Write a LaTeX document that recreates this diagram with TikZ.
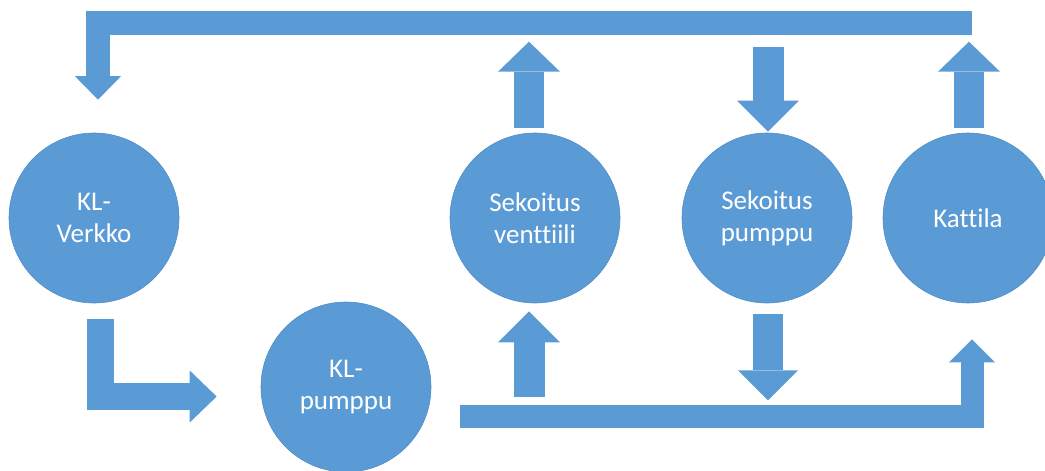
\documentclass[tikz,border=0pt]{standalone}
\usepackage{fontspec}
\setmainfont{Carlito}[Ligatures=NoCommon]
\usetikzlibrary{calc, arrows.meta}

\begin{document}
\begin{tikzpicture}[x=1pt, y=-1pt]
    % Define colours
    \definecolor{fillColour}{HTML}{5B9BD5}
    \definecolor{borderColour}{HTML}{4F8DC8}

    % Define styles
    \tikzset{
        unit/.style={circle, minimum size=170pt, inner sep=0pt, fill=fillColour, draw=borderColour, line width=0.6pt, text=white, align=center, font=\fontsize{27}{32}\selectfont},
        flow/.style 2 args={draw=fillColour, line width=#1pt, line join=miter, -{Triangle[width=#2pt, length=#1pt, line width=0pt]}}
    }

    % Fix picture size
    \clip (0,0) rectangle (1045,471);

    % Draw units
    \node[unit] (verkko) at (94,218) {KL-\\Verkko};
    \node[unit] (ventt) at (535,218) {Sekoitus\\venttiili};
    \node[unit] (spump) at (767,218) {Sekoitus\\pumppu};
    \node[unit] (kattila) at (968,218) {Kattila};
    \node[unit] (klpump) at (346,387) {KL-\\pumppu};

    % Define end points of the bent arrows
    \coordinate (topEnd) at ($(kattila.north)+(4,-109.5)$);
    \coordinate (verkkoIn) at ($(verkko.north)+(4,-33)$);
    \coordinate (verkkoOut) at ($(verkko.south)+(6.5,16)$);
    \coordinate (klpumpIn) at ($(klpump.west)+(-44,9.5)$);
    \coordinate (klpumpOut) at ($(klpump.east)+(29,29)$);
    \coordinate (kattilaIn) at ($(kattila.south)+(4,36)$);

    % Draw return line and supply line
    \draw[flow={23.5}{46}] (topEnd) -| (verkkoIn);
    \draw[flow={27}{52}] (verkkoOut) |- (klpumpIn);
    \draw[flow={23}{46}] (klpumpOut) -| (kattilaIn);

    % Draw arrows above the units
    \draw[flow={30}{62}] ($(ventt.north)+(-6,-5)$) -- ++(0,-86);
    \draw[flow={31}{62}] ($(spump.north)+(1,-86)$) -- ++(0,85);
    \draw[flow={30}{62}] ($(kattila.north)+(1,-5)$) -- ++(0,-86);

    % Draw arrows below the units
    \draw[flow={31}{62}] ($(ventt.south)+(-6,94)$) -- ++(0,-86);
    \draw[flow={30}{60}] ($(spump.south)+(1,11)$) -- ++(0,86);

\end{tikzpicture}
\end{document}
